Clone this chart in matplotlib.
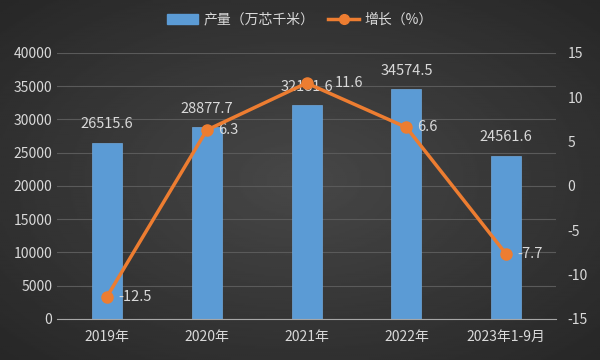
import numpy as np
import matplotlib.pyplot as plt
from matplotlib.lines import Line2D
from matplotlib.patches import Patch

plt.rcParams['font.family'] = ['Noto Sans CJK SC', 'DejaVu Sans']
plt.rcParams['axes.unicode_minus'] = False

# data
years = ['2019年', '2020年', '2021年', '2022年', '2023年1-9月']
output = [26515.6, 28877.7, 32181.6, 34574.5, 24561.6]
growth = [-12.5, 6.3, 11.6, 6.6, -7.7]

txt = '#d9d9d9'
bar_c = '#5b9bd5'
line_c = '#ed7d31'

fig = plt.figure(figsize=(6, 3.6), dpi=100)

# dark radial background
bg = fig.add_axes([0, 0, 1, 1], zorder=-10)
yy, xx = np.mgrid[-1:1:200j, -1:1:300j]
r = np.sqrt(xx ** 2 + yy ** 2)
bg.imshow(0.28 - 0.09 * r, cmap='gray', vmin=0, vmax=1, aspect='auto', extent=[0, 1, 0, 1])
bg.axis('off')

ax = fig.add_axes([0.095, 0.114, 0.832, 0.739])
ax.set_facecolor('none')
x = np.arange(len(years))
ax.bar(x, output, width=0.3, color=bar_c, edgecolor='#6fa8dc', linewidth=0.5, zorder=2)
ax.set_ylim(0, 40000)
ax.set_xlim(-0.5, len(years) - 0.5)
ax.set_yticks(range(0, 40001, 5000))
ax.grid(axis='y', color='#5a5a5a', linewidth=0.8, zorder=0)
for s in ['top', 'right', 'left']:
    ax.spines[s].set_visible(False)
ax.spines['bottom'].set_color('#a6a6a6')
ax.tick_params(axis='both', length=0, colors=txt, labelsize=10)
ax.set_xticks(x)
ax.set_xticklabels(years)
ax.tick_params(axis='x', pad=8)
for xi, v in zip(x, output):
    ax.annotate(f'{v}', (xi, v), xytext=(0, 8), textcoords='offset points',
                ha='center', va='bottom', color=txt, fontsize=10.5, zorder=5)

ax2 = ax.twinx()
ax2.plot(x, growth, color=line_c, linewidth=2.5, marker='o', markersize=8, zorder=4)
ax2.set_ylim(-15, 15)
ax2.set_yticks(range(-15, 16, 5))
for s in ax2.spines.values():
    s.set_visible(False)
ax2.tick_params(axis='y', length=0, colors=txt, labelsize=10, pad=8)
for i, (xi, v) in enumerate(zip(x, growth)):
    dx = 20 if i == 2 else 8
    ax2.annotate(f'{v}', (xi, v), xytext=(dx, 0), textcoords='offset points',
                 ha='left', va='center', color=txt, fontsize=10.5)

handles = [Patch(facecolor=bar_c, edgecolor=bar_c),
           Line2D([0], [0], color=line_c, linewidth=2.5, marker='o', markersize=7)]
fig.legend(handles, ['产量（万芯千米）', '增长（%）'], loc='center', bbox_to_anchor=(0.5, 0.945),
           ncol=2, frameon=False, fontsize=10, labelcolor=txt, handlelength=2.2,
           handleheight=0.8, columnspacing=1.0, handletextpad=0.4)

fig.savefig('out.png', dpi=100)
